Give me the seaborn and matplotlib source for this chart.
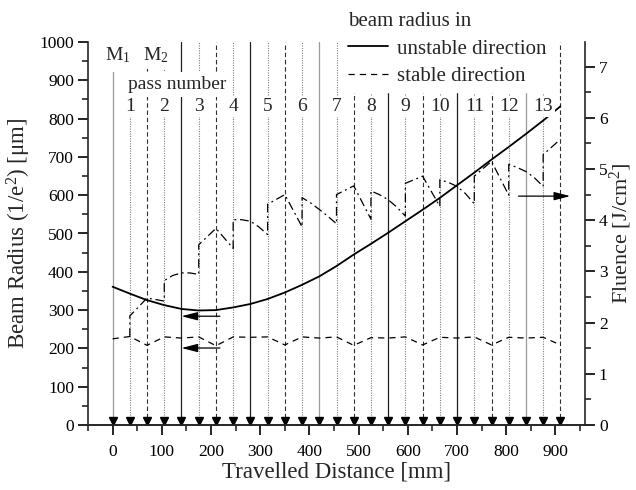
import matplotlib
matplotlib.use('Agg')
import matplotlib.pyplot as plt
from matplotlib.ticker import MultipleLocator
import seaborn as sns

# -------------------------------------------------------
# Data
# -------------------------------------------------------
# positions of the mirror passes along the travelled distance [mm]
pass_pos = [0, 35, 70, 105, 140, 175, 210, 245, 280, 315, 350, 385, 420, 455,
            490, 525, 560, 595, 630, 665, 700, 735, 770, 805, 840, 875, 910]

# beam radius, unstable direction [um]
unstable_um = [361, 343, 326, 313, 303, 299, 300, 307, 316, 329, 346, 366, 388, 415,
               445, 473, 502, 532, 562, 593, 626, 659, 693, 726, 760, 795, 832]

# beam radius, stable direction [um]
stable_um = [225, 231, 208, 230, 227, 230, 207, 230, 229, 230, 209, 230, 227, 230,
             208, 228, 227, 230, 209, 229, 227, 230, 209, 229, 227, 229, 209]

# fluence [J/cm^2] (jumps at every mid-pass position)
fluence_x = [35, 35, 70, 105, 105, 122, 140, 157, 175, 175, 210, 245,
             245, 262, 280, 297, 315, 315, 350, 385, 385, 402, 420, 437, 455,
             455, 490, 525, 525, 542, 560, 577, 595, 595, 630, 665,
             665, 682, 700, 717, 735, 735, 770, 805, 805, 822, 840, 857, 875,
             875, 910]
fluence = [1.72, 2.13, 2.48, 2.42, 2.82, 2.92, 2.97, 2.97, 2.94, 3.52, 3.84, 3.45,
           4.01, 4.01, 3.98, 3.87, 3.72, 4.31, 4.50, 3.87, 4.44, 4.34, 4.21, 4.08, 3.93,
           4.50, 4.67, 4.02, 4.57, 4.50, 4.40, 4.26, 4.08, 4.72, 4.86, 4.27,
           4.79, 4.74, 4.66, 4.52, 4.32, 4.86, 5.15, 4.49, 5.09, 5.03, 4.95, 4.83, 4.66,
           5.28, 5.58]

pass_numbers = ['1', '2', '3', '4', '5', '6', '7', '8', '9', '10', '11', '12', '13']
pass_label_x = [35, 105, 175, 245, 315, 385, 455, 525, 595, 665, 735, 805, 875]

x_ticks = [0, 100, 200, 300, 400, 500, 600, 700, 800, 900]
y_ticks = [0, 100, 200, 300, 400, 500, 600, 700, 800, 900, 1000]
f_ticks = [0, 1, 2, 3, 4, 5, 6, 7]

# -------------------------------------------------------
# Style
# -------------------------------------------------------
sns.set_theme(style='ticks')
plt.rcParams['font.family'] = ['Liberation Serif', 'DejaVu Serif']
plt.rcParams['mathtext.fontset'] = 'custom'
plt.rcParams['mathtext.rm'] = 'Liberation Serif'
plt.rcParams['mathtext.it'] = 'Liberation Serif:italic'
plt.rcParams['axes.linewidth'] = 1.2

fig = plt.figure(figsize=(6.36, 4.9), dpi=100)
ax = fig.add_axes([88 / 636, 65 / 490, 497 / 636, 383 / 490])
ax2 = ax.twinx()

# vertical pass lines: solid every 140 mm, dashed at odd 70 mm, dotted in between
for i, xp in enumerate(pass_pos):
    if i % 4 == 0:
        col = '#9a9a9a' if i % 12 == 0 else '#202020'
        ax.axvline(xp, color=col, lw=0.9, ls='-', zorder=1)
    elif i % 4 == 2:
        ax.axvline(xp, color='#303030', lw=0.8, ls=(0, (4, 2.5)), zorder=1)
    else:
        ax.axvline(xp, color='#808080', lw=0.8, ls=(0, (1, 1.2)), zorder=1)

ax.plot(pass_pos, [11] * len(pass_pos), ls='none', marker='v', ms=6,
        color='black', clip_on=False, zorder=3)

# curves
sns.lineplot(x=pass_pos, y=unstable_um, ax=ax, color='black', lw=1.3,
             estimator=None, sort=False, zorder=3)
sns.lineplot(x=pass_pos, y=stable_um, ax=ax, color='black', lw=0.9,
             estimator=None, sort=False, zorder=3)
l_unst = ax.lines[-2]
l_stab = ax.lines[-1]
l_stab.set_linestyle((0, (5, 4)))
sns.lineplot(x=fluence_x, y=fluence, ax=ax2, color='black', lw=0.9,
             estimator=None, sort=False, zorder=3)
ax2.lines[-1].set_linestyle((0, (7, 3, 1.5, 3)))

# arrows pointing to the axes
arw = dict(arrowstyle='-|>,head_length=0.7,head_width=0.18', color='black',
           lw=0.9, mutation_scale=14, shrinkA=0, shrinkB=0)
ax.annotate('', xy=(140, 284), xytext=(218, 284), arrowprops=arw, zorder=4)
ax.annotate('', xy=(140, 201), xytext=(218, 201), arrowprops=arw, zorder=4)
ax2.annotate('', xy=(930, 4.47), xytext=(825, 4.47), arrowprops=arw, zorder=4)

# labels inside the plot
box = dict(facecolor='white', edgecolor='none', pad=1.5)
for lab, xp in zip(pass_numbers, pass_label_x):
    ax.text(xp, 832, lab, ha='center', va='center', fontsize=14, bbox=box, zorder=4)
ax.text(132, 890, 'pass number', ha='center', va='center', fontsize=14,
        bbox=dict(facecolor='white', edgecolor='none', pad=3.0), zorder=4)
ax.text(10, 966, r'M$_1$', ha='center', va='center', fontsize=14,
        bbox=dict(facecolor='white', edgecolor='none', pad=5.0), zorder=4)
ax.text(88, 966, r'M$_2$', ha='center', va='center', fontsize=14,
        bbox=dict(facecolor='white', edgecolor='none', pad=3.0), zorder=4)

# axes
ax.set_xlim(-50, 960)
ax.set_ylim(0, 1000)
ax2.set_ylim(0, 7.48)
ax.set_xticks(x_ticks)
ax.set_yticks(y_ticks)
ax2.set_yticks(f_ticks)
ax.xaxis.set_minor_locator(MultipleLocator(50))
ax.yaxis.set_minor_locator(MultipleLocator(50))
ax2.yaxis.set_minor_locator(MultipleLocator(0.5))
for a in (ax, ax2):
    a.tick_params(which='major', direction='out', length=7, width=1.2, labelsize=12.5,
                  colors='black', pad=3)
    a.tick_params(which='minor', direction='out', length=4, width=1.2)
    a.spines['top'].set_visible(False)
    a.grid(False)
ax.tick_params(axis='x', which='major', pad=7)
ax.spines['right'].set_visible(False)
ax2.spines['left'].set_visible(False)

ax.set_xlabel('Travelled Distance [mm]', fontsize=16.5, labelpad=1)
ax.set_ylabel('Beam Radius (1/e$^2$) [μm]', fontsize=16.5, labelpad=5)
ax2.set_ylabel('Fluence [J/cm$^2$]', fontsize=16, labelpad=0)

leg = ax2.legend(handles=[l_unst, l_stab], labels=['unstable direction', 'stable direction'],
                 title='beam radius in', loc='upper left', alignment='left',
                 bbox_to_anchor=(342 / 636, 1 - 6 / 490), bbox_transform=fig.transFigure,
                 frameon=True, fancybox=False, edgecolor='white', facecolor='white',
                 framealpha=1, fontsize=15, title_fontsize=15, handlelength=1.9,
                 handletextpad=0.45, labelspacing=0.38, borderpad=0.3, borderaxespad=0)
leg.set_zorder(5)

fig.savefig('out.png', dpi=100)
